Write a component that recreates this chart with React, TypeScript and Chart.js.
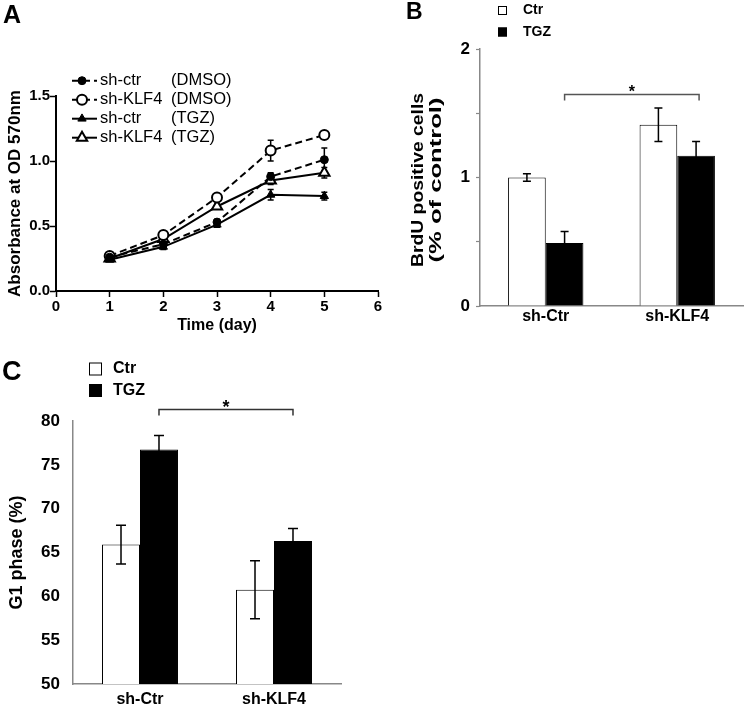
import React, { useEffect, useRef } from 'react';
import { Chart, registerables } from 'chart.js';
Chart.register(...registerables);

const FONT = "'Liberation Sans', Arial, Helvetica, sans-serif";

// ---------- Panel A data ----------
const days = [1, 2, 3, 4, 5];
const xTickLabelsA = ['0', '1', '2', '3', '4', '5', '6'];
const yTickLabelsA = ['0.0', '0.5', '1.0', '1.5'];
const seriesNames = ['sh-ctr', 'sh-KLF4', 'sh-ctr', 'sh-KLF4'];
const seriesConditions = ['(DMSO)', '(DMSO)', '(TGZ)', '(TGZ)'];
const shCtrDMSO = [0.26, 0.36, 0.53, 0.88, 1.01];
const shCtrDMSOErr = [0.01, 0.01, 0.02, 0.03, 0.09];
const shKLF4DMSO = [0.27, 0.43, 0.72, 1.08, 1.2];
const shKLF4DMSOErr = [0.01, 0.02, 0.02, 0.08, 0.02];
const shCtrTGZ = [0.24, 0.34, 0.51, 0.74, 0.73];
const shCtrTGZErr = [0.01, 0.02, 0.02, 0.04, 0.03];
const shKLF4TGZ = [0.25, 0.4, 0.65, 0.85, 0.91];
const shKLF4TGZErr = [0.01, 0.02, 0.02, 0.03, 0.04];

// ---------- Panel B data ----------
const groups = ['sh-Ctr', 'sh-KLF4'];
const treatments = ['Ctr', 'TGZ'];
const brduCtr = [1.0, 1.41];
const brduCtrErr = [0.03, 0.13];
const brduTGZ = [0.49, 1.17];
const brduTGZErr = [0.09, 0.11];
const yTickLabelsB = ['0', '', '1', '', '2'];
const yTitleB = ['BrdU positive cells', '(% of control)'];
const brduSigLevel = 1.645;

// ---------- Panel C data ----------
const g1Ctr = [65.9, 60.75];
const g1CtrErr = [2.2, 3.3];
const g1TGZ = [76.75, 66.3];
const g1TGZErr = [1.6, 1.45];
const yTickLabelsC = ['50', '55', '60', '65', '70', '75', '80'];
const g1SigLevel = 81.3;

const bold = (size: number, lineHeight = 1.2) => ({ family: FONT, size, weight: 'bold' as const, lineHeight });

function drawMarker(ctx: CanvasRenderingContext2D, style: string, x: number, y: number, r: number, fill: string, bw: number) {
  ctx.beginPath();
  if (style === 'circle') {
    ctx.arc(x, y, r, 0, Math.PI * 2);
  } else {
    let a = 0;
    ctx.moveTo(x + Math.sin(a) * r, y - Math.cos(a) * r);
    a += (Math.PI * 2) / 3;
    ctx.lineTo(x + Math.sin(a) * r, y - Math.cos(a) * r);
    a += (Math.PI * 2) / 3;
    ctx.lineTo(x + Math.sin(a) * r, y - Math.cos(a) * r);
    ctx.closePath();
  }
  ctx.fillStyle = fill;
  ctx.strokeStyle = '#000';
  ctx.lineWidth = bw;
  ctx.fill();
  ctx.stroke();
}

function drawErrors(chart: any, opts: any) {
  const ctx = chart.ctx;
  const yScale = chart.scales.y;
  chart.data.datasets.forEach((ds: any, di: number) => {
    const errs = ds.errors;
    if (!errs) return;
    const meta = chart.getDatasetMeta(di);
    meta.data.forEach((el: any, i: number) => {
      const raw = ds.data[i];
      const v = typeof raw === 'number' ? raw : raw.y;
      const e = errs[i];
      const x = el.x;
      const yt = yScale.getPixelForValue(v + e);
      const yb = yScale.getPixelForValue(v - e);
      const c = opts.cap;
      ctx.save();
      ctx.strokeStyle = '#000';
      ctx.lineWidth = opts.width;
      ctx.beginPath();
      ctx.moveTo(x, yt);
      ctx.lineTo(x, yb);
      ctx.moveTo(x - c, yt);
      ctx.lineTo(x + c, yt);
      ctx.moveTo(x - c, yb);
      ctx.lineTo(x + c, yb);
      ctx.stroke();
      ctx.restore();
    });
  });
}

const errorBarPlugin = {
  id: 'errorBars',
  beforeDatasetsDraw(chart: any, _a: any, opts: any) {
    if (opts.before) drawErrors(chart, opts);
  },
  afterDatasetsDraw(chart: any, _a: any, opts: any) {
    if (!opts.before) drawErrors(chart, opts);
  },
};

const lineLegendPlugin = {
  id: 'lineLegend',
  afterDraw(chart: any) {
    const ctx = chart.ctx;
    chart.data.datasets.forEach((ds: any, i: number) => {
      const y = 80.7 + i * 19;
      ctx.save();
      ctx.strokeStyle = '#000';
      ctx.lineWidth = 2;
      ctx.setLineDash(ds.borderDash || []);
      ctx.beginPath();
      ctx.moveTo(72, y);
      ctx.lineTo(97, y);
      ctx.stroke();
      ctx.setLineDash([]);
      drawMarker(ctx, ds.pointStyle, 82, y, ds.pointRadius, ds.pointBackgroundColor, ds.pointBorderWidth);
      ctx.fillStyle = '#000';
      ctx.font = `16.5px ${FONT}`;
      ctx.textBaseline = 'middle';
      ctx.textAlign = 'left';
      ctx.fillText(seriesNames[i], 100, y);
      ctx.fillText(seriesConditions[i], 171, y);
      ctx.restore();
    });
  },
};

const squareLegendPlugin = {
  id: 'squareLegend',
  afterDraw(chart: any, _a: any, o: any) {
    const ctx = chart.ctx;
    chart.data.datasets.forEach((ds: any, i: number) => {
      const cy = o.y0 + i * o.dy;
      ctx.save();
      ctx.fillStyle = ds.backgroundColor;
      ctx.strokeStyle = '#000';
      ctx.lineWidth = 1;
      ctx.fillRect(o.x, cy - o.size / 2, o.size, o.size);
      ctx.strokeRect(o.x + 0.5, cy - o.size / 2 + 0.5, o.size - 1, o.size - 1);
      ctx.fillStyle = '#000';
      ctx.font = `bold ${o.fontSize}px ${FONT}`;
      ctx.textBaseline = 'middle';
      ctx.textAlign = 'left';
      ctx.fillText(ds.label, o.textX, cy);
      ctx.restore();
    });
  },
};

// Rotated, length-fitted axis title lines (the source figure's title is stretched along its length)
const fittedTitlePlugin = {
  id: 'fittedTitle',
  afterDraw(chart: any, _a: any, o: any) {
    const ctx = chart.ctx;
    const yScale = chart.scales.y;
    const cy = (yScale.top + yScale.bottom) / 2 + o.shift;
    o.lines.forEach((line: string, i: number) => {
      ctx.save();
      ctx.font = `bold ${o.fontSize}px ${FONT}`;
      const w = ctx.measureText(line).width;
      ctx.translate(o.x[i], cy);
      ctx.rotate(-Math.PI / 2);
      ctx.scale(o.lengths[i] / w, 1);
      ctx.fillStyle = '#000';
      ctx.textAlign = 'center';
      ctx.textBaseline = 'middle';
      ctx.fillText(line, 0, 0);
      ctx.restore();
    });
  },
};

const bracketPlugin = {
  id: 'bracket',
  afterDraw(chart: any, _a: any, o: any) {
    const ctx = chart.ctx;
    const meta = chart.getDatasetMeta(o.dataset);
    const x1 = meta.data[o.from].x;
    const x2 = meta.data[o.to].x + o.extra;
    const y = chart.scales.y.getPixelForValue(o.value);
    ctx.save();
    ctx.strokeStyle = o.color;
    ctx.lineWidth = 1.5;
    ctx.beginPath();
    ctx.moveTo(x1, y + o.drop);
    ctx.lineTo(x1, y);
    ctx.lineTo(x2, y);
    ctx.lineTo(x2, y + o.drop);
    ctx.stroke();
    ctx.fillStyle = '#000';
    ctx.font = `bold ${o.starSize}px ${FONT}`;
    ctx.textAlign = 'center';
    ctx.textBaseline = 'alphabetic';
    ctx.fillText('*', (x1 + x2) / 2, y + o.starOffset);
    ctx.restore();
  },
};

function configA(): any {
  const mk = (vals: number[], errs: number[], label: string, dashed: boolean, style: string, open: boolean, r: number) => ({
    label,
    data: days.map((d, i) => ({ x: d, y: vals[i] })),
    errors: errs,
    borderColor: '#000',
    borderWidth: 2,
    borderDash: dashed ? [7, 4] : [],
    tension: 0,
    pointStyle: style,
    pointRadius: r,
    pointBackgroundColor: open ? '#fff' : '#000',
    pointBorderColor: '#000',
    pointBorderWidth: open ? 2 : 1,
  });
  return {
    type: 'line',
    data: {
      datasets: [
        mk(shCtrDMSO, shCtrDMSOErr, 'sh-ctr (DMSO)', true, 'circle', false, 4),
        mk(shKLF4DMSO, shKLF4DMSOErr, 'sh-KLF4 (DMSO)', true, 'circle', true, 5),
        mk(shCtrTGZ, shCtrTGZErr, 'sh-ctr (TGZ)', false, 'triangle', false, 4.8),
        mk(shKLF4TGZ, shKLF4TGZErr, 'sh-KLF4 (TGZ)', false, 'triangle', true, 6),
      ],
    },
    options: {
      responsive: false,
      animation: false,
      layout: { padding: { left: 0, top: 96, right: 12, bottom: 0 } },
      plugins: {
        legend: { display: false },
        tooltip: { enabled: false },
        errorBars: { before: true, cap: 3, width: 1.5 },
      },
      scales: {
        x: {
          type: 'linear',
          min: 0,
          max: 6,
          afterFit: (s: any) => { s.height = 44; },
          ticks: { stepSize: 1, color: '#000', font: bold(15), padding: 1, callback: (_v: any, i: number) => xTickLabelsA[i] },
          grid: { drawOnChartArea: false, drawTicks: true, tickLength: 6, tickColor: '#000', tickWidth: 1.5 },
          border: { display: true, color: '#000', width: 2 },
          title: { display: true, text: 'Time (day)', color: '#000', font: bold(16), padding: { top: 0, bottom: 0 } },
        },
        y: {
          min: 0,
          max: 1.5,
          afterFit: (s: any) => { s.width = 56; },
          ticks: { stepSize: 0.5, color: '#000', font: bold(15), padding: 0, callback: (_v: any, i: number) => yTickLabelsA[i] },
          grid: { drawOnChartArea: false, drawTicks: true, tickLength: 6, tickColor: '#000', tickWidth: 1.5 },
          border: { display: true, color: '#000', width: 2 },
          title: { display: true, text: 'Absorbance at OD 570nm', color: '#000', font: bold(17), padding: { top: 5, bottom: 0 } },
        },
      },
    },
    plugins: [errorBarPlugin, lineLegendPlugin],
  };
}

function barDatasets(ctr: number[], ctrErr: number[], tgz: number[], tgzErr: number[]) {
  return [
    { label: treatments[0], data: ctr, errors: ctrErr, backgroundColor: '#fff', borderColor: '#000', borderWidth: 1 },
    { label: treatments[1], data: tgz, errors: tgzErr, backgroundColor: '#000', borderColor: '#000', borderWidth: 1 },
  ];
}

function configB(): any {
  return {
    type: 'bar',
    data: { labels: groups, datasets: barDatasets(brduCtr, brduCtrErr, brduTGZ, brduTGZErr) },
    options: {
      responsive: false,
      animation: false,
      layout: { padding: { left: 0, top: 49, right: 2, bottom: 0 } },
      datasets: { bar: { categoryPercentage: 0.573, barPercentage: 1 } },
      plugins: {
        legend: { display: false },
        tooltip: { enabled: false },
        errorBars: { before: false, cap: 4, width: 1.5 },
        squareLegend: { x: 118, y0: 10.5, dy: 21.5, size: 9, textX: 143, fontSize: 14 },
        bracket: { dataset: 1, from: 0, to: 1, extra: 3, value: brduSigLevel, drop: 6, color: '#555', starSize: 16, starOffset: 2 },
        fittedTitle: { lines: yTitleB, fontSize: 17, x: [38.5, 56.5], lengths: [174, 165], shift: 2.5 },
      },
      scales: {
        x: {
          afterFit: (s: any) => { s.height = 24; },
          ticks: { color: '#000', font: bold(16), padding: 1 },
          grid: { drawOnChartArea: false, drawTicks: false },
          border: { display: true, color: '#888', width: 1.5 },
        },
        y: {
          min: 0,
          max: 2,
          afterFit: (s: any) => { s.width = 100; },
          ticks: { stepSize: 0.5, color: '#000', font: bold(17), padding: 6, callback: (_v: any, i: number) => yTickLabelsB[i] },
          grid: { drawOnChartArea: false, drawTicks: true, tickLength: 4, tickColor: '#888', tickWidth: 1.2 },
          border: { display: true, color: '#888', width: 1.5 },
          title: { display: false },
        },
      },
    },
    plugins: [errorBarPlugin, squareLegendPlugin, bracketPlugin, fittedTitlePlugin],
  };
}

function configC(): any {
  return {
    type: 'bar',
    data: { labels: groups, datasets: barDatasets(g1Ctr, g1CtrErr, g1TGZ, g1TGZErr) },
    options: {
      responsive: false,
      animation: false,
      layout: { padding: { left: 0, top: 86, right: 39, bottom: 0 } },
      datasets: { bar: { categoryPercentage: 0.567, barPercentage: 1 } },
      plugins: {
        legend: { display: false },
        tooltip: { enabled: false },
        errorBars: { before: false, cap: 5, width: 1.5 },
        squareLegend: { x: 89, y0: 34, dy: 21.5, size: 13, textX: 113, fontSize: 16 },
        bracket: { dataset: 1, from: 0, to: 1, extra: 0, value: g1SigLevel, drop: 6, color: '#333', starSize: 18, starOffset: 3 },
      },
      scales: {
        x: {
          afterFit: (s: any) => { s.height = 26; },
          ticks: { color: '#000', font: bold(16), padding: 6 },
          grid: { drawOnChartArea: false, drawTicks: false },
          border: { display: true, color: '#888', width: 1.5 },
        },
        y: {
          min: 50,
          max: 80,
          afterFit: (s: any) => { s.width = 73; },
          ticks: { stepSize: 5, color: '#000', font: bold(17), padding: 13, callback: (_v: any, i: number) => yTickLabelsC[i] },
          grid: { drawOnChartArea: false, drawTicks: false },
          border: { display: true, color: '#888', width: 1.5 },
          title: { display: true, text: 'G1 phase (%)', color: '#000', font: bold(18), padding: { top: 6.5, bottom: 0 } },
        },
      },
    },
    plugins: [errorBarPlugin, squareLegendPlugin, bracketPlugin],
  };
}

function ChartBox({ left, top, width, height, config }: { left: number; top: number; width: number; height: number; config: () => any }) {
  const ref = useRef<HTMLCanvasElement>(null);
  useEffect(() => {
    const chart = new Chart(ref.current as HTMLCanvasElement, config());
    return () => chart.destroy();
  }, []);
  return (
    <canvas
      ref={ref}
      width={width}
      height={height}
      style={{ position: 'absolute', left, top, width, height }}
    />
  );
}

const letterStyle = (left: number, top: number, size: number): React.CSSProperties => ({
  position: 'absolute',
  left,
  top,
  fontFamily: FONT,
  fontWeight: 'bold',
  fontSize: size,
  lineHeight: 1,
  color: '#000',
});

export default function App() {
  return (
    <div style={{ position: 'absolute', left: 0, top: 0, width: 745, height: 710, background: '#fff', overflow: 'hidden' }}>
      <ChartBox left={0} top={0} width={390} height={335} config={configA} />
      <ChartBox left={380} top={0} width={365} height={330} config={configB} />
      <ChartBox left={0} top={335} width={380} height={375} config={configC} />
      <div style={letterStyle(3, 2, 25)}>A</div>
      <div style={letterStyle(406, 0, 23)}>B</div>
      <div style={letterStyle(2, 358, 27)}>C</div>
    </div>
  );
}
